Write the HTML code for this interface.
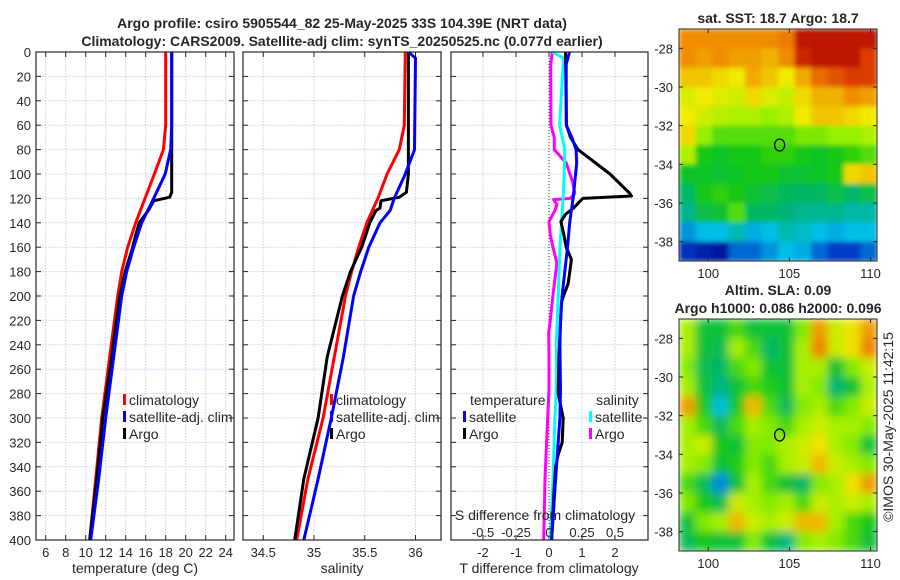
<!DOCTYPE html>
<html><head><meta charset="utf-8"><style>
body{margin:0;background:#fff;}
svg{display:block;font-family:"Liberation Sans","DejaVu Sans",sans-serif;}
text{fill:#262626;}
</style></head><body>
<svg id="chart" width="900" height="580" viewBox="0 0 900 580" xmlns="http://www.w3.org/2000/svg">
<defs>
<filter id="blurSST" x="0" y="0" width="1" height="1"><feGaussianBlur stdDeviation="2.5" edgeMode="duplicate"/></filter>
<filter id="blurSLA" x="0" y="0" width="1" height="1"><feGaussianBlur stdDeviation="4.5" edgeMode="duplicate"/></filter>
<clipPath id="clipSST"><rect x="679" y="29" width="198" height="232"/></clipPath>
<clipPath id="clipSLA"><rect x="679" y="319" width="198" height="232"/></clipPath>
</defs>
<rect width="900" height="580" fill="#fff"/>
<g id="root"></g>
</svg>
<script>
// ---------- data ----------
const depthTicks=[0,20,40,60,80,100,120,140,160,180,200,220,240,260,280,300,320,340,360,380,400];
const tempTicks=[6,8,10,12,14,16,18,20,22,24];
const salTicks=[34.5,35,35.5,36];
const salTickLabels=["34.5","35","35.5","36"];
const tdiffTicks=[-2,-1,0,1,2];
const sdiffTicks=[-0.5,-0.25,0,0.25,0.5];
const sdiffTickLabels=["-0.5","-0.25","0","0.25","0.5"];

const climDepth=[0,60,80,100,120,140,160,180,200,250,300,350,400];
const climTemp=[18.0,18.0,17.77,16.87,15.93,15.0,14.2,13.6,13.2,12.4,11.6,11.0,10.4];
const satTemp=[18.6,18.6,18.5,17.95,16.8,15.6,14.8,14.1,13.6,12.8,12.0,11.3,10.5];
const satDepthS=[0,5,80,100,120,130,140,160,180,200,250,300,350,400];
const climSalDepth=[0,60,80,100,120,140,160,180,200,250,300,350,400];
const climSal=[35.90,35.89,35.84,35.72,35.63,35.52,35.44,35.37,35.31,35.2,35.09,34.94,34.83];
const satSal=[35.93,36.0,35.99,35.9,35.79,35.75,35.65,35.54,35.46,35.39,35.29,35.17,35.04,34.9];

const argoDepth=[0,100,115,119,122,128,130,140,150,160,180,200,250,300,350,400];
const argoTemp=[18.6,18.6,18.6,18.4,16.8,16.4,16.25,15.35,15.0,14.7,13.95,13.4,12.6,11.7,11.1,10.4];
const argoSal=[35.93,35.93,35.91,35.84,35.66,35.65,35.61,35.55,35.51,35.47,35.36,35.28,35.13,35.04,34.9,34.81];

const tdiffSatDepth=[0,10,60,70,80,91,118,139,160,180,199,220,240,277,300,350,400];
const tdiffSat=[0.62,0.52,0.52,0.69,0.82,0.84,0.74,0.63,0.56,0.48,0.4,0.35,0.33,0.35,0.33,0.2,0.08];
const tdiffArgoDepth=[0,60,70,80,100,116,118,120,122,128,133,139,150,160,170,180,190,199,205,250,280,300,320,330,340,360,400];
const tdiffArgo=[0.5,0.53,0.65,0.88,1.85,2.45,2.5,1.03,0.95,0.74,0.5,0.36,0.45,0.52,0.68,0.63,0.58,0.45,0.38,0.3,0.28,0.43,0.4,0.28,0.2,0.15,0.08];
const sdiffSatDepth=[0,5,60,80,100,120,160,199,240,277,300,350,400];
const sdiffSat=[0.025,0.11,0.08,0.12,0.115,0.107,0.083,0.07,0.055,0.055,0.045,0.03,0.01];
const sdiffArgoDepth=[0,10,60,70,80,91,107,116,120,121,125,130,139,150,160,173,199,220,230,250,277,300,350,400];
const sdiffArgo=[0.025,0.013,0.015,0.04,0.04,0.13,0.18,0.195,0.16,0.035,0.06,0.045,0.0,0.01,0.03,0.06,0.03,0.01,-0.002,0.0,0.0,-0.01,-0.03,-0.04];

const lonTicks=[100,105,110];
const latTicks=[-28,-30,-32,-34,-36,-38];
const sstGrid=[
[0.78,0.78,0.78,0.78,0.78,0.78,0.8,0.95,0.96,0.96,0.95,0.95],
[0.78,0.76,0.78,0.76,0.76,0.74,0.78,0.92,0.95,0.95,0.95,0.88],
[0.72,0.72,0.7,0.68,0.75,0.72,0.68,0.75,0.82,0.85,0.88,0.88],
[0.66,0.68,0.66,0.65,0.7,0.66,0.64,0.7,0.74,0.74,0.78,0.76],
[0.68,0.65,0.63,0.62,0.62,0.6,0.62,0.68,0.72,0.72,0.7,0.68],
[0.7,0.6,0.55,0.55,0.55,0.55,0.55,0.58,0.58,0.6,0.6,0.62],
[0.62,0.5,0.48,0.5,0.5,0.52,0.52,0.5,0.48,0.5,0.52,0.55],
[0.48,0.48,0.47,0.48,0.5,0.5,0.47,0.47,0.48,0.5,0.7,0.72],
[0.42,0.5,0.52,0.5,0.47,0.45,0.43,0.42,0.42,0.45,0.42,0.45],
[0.38,0.45,0.47,0.55,0.42,0.42,0.4,0.38,0.38,0.38,0.36,0.36],
[0.25,0.3,0.3,0.35,0.28,0.3,0.35,0.33,0.3,0.28,0.3,0.3],
[0.12,0.08,0.05,0.2,0.2,0.25,0.3,0.28,0.2,0.15,0.15,0.2]];
const slaGrid=[
[0.6,0.5,0.5,0.55,0.5,0.5,0.5,0.58,0.7,0.62,0.65,0.7],
[0.6,0.5,0.48,0.6,0.55,0.47,0.5,0.6,0.72,0.62,0.65,0.72],
[0.58,0.48,0.47,0.55,0.58,0.5,0.5,0.6,0.6,0.5,0.58,0.62],
[0.6,0.5,0.45,0.5,0.55,0.53,0.5,0.6,0.58,0.46,0.5,0.6],
[0.7,0.52,0.4,0.52,0.68,0.55,0.48,0.58,0.6,0.55,0.58,0.62],
[0.6,0.55,0.48,0.55,0.6,0.58,0.55,0.6,0.62,0.6,0.6,0.58],
[0.6,0.62,0.52,0.5,0.58,0.58,0.6,0.62,0.65,0.6,0.58,0.5],
[0.6,0.58,0.5,0.53,0.58,0.55,0.6,0.62,0.68,0.62,0.6,0.58],
[0.55,0.48,0.35,0.5,0.6,0.55,0.5,0.47,0.58,0.6,0.65,0.7],
[0.58,0.52,0.48,0.62,0.6,0.58,0.6,0.55,0.62,0.6,0.62,0.6],
[0.5,0.58,0.6,0.68,0.62,0.6,0.62,0.68,0.68,0.6,0.55,0.52],
[0.48,0.52,0.5,0.5,0.58,0.5,0.45,0.58,0.6,0.58,0.55,0.5]];
const floatLon=[104.4];
const floatLat=[-33.0];

// ---------- helpers ----------
const NS="http://www.w3.org/2000/svg";
const root=document.getElementById('root');
function mk(tag,attrs,parent,txt){const e=document.createElementNS(NS,tag);for(const k in attrs)e.setAttribute(k,attrs[k]);if(txt!==undefined)e.textContent=txt;(parent||root).appendChild(e);return e;}
const Y0=52,Y1=540;
const yD=d=>Y0+(d/400)*(Y1-Y0);
function lin(d0,d1,r0,r1){return v=>r0+(v-d0)/(d1-d0)*(r1-r0);}
const cmapStops=[[0,[0,0,140]],[0.15,[0,60,200]],[0.3,[0,190,230]],[0.4,[0,180,120]],[0.5,[20,200,20]],[0.6,[150,240,0]],[0.68,[240,235,0]],[0.78,[240,140,0]],[0.88,[220,60,0]],[1,[170,0,0]]];
function cmap(v){v=Math.max(0,Math.min(1,v));
 for(let i=1;i<cmapStops.length;i++){const a=cmapStops[i-1],b=cmapStops[i];
  if(v<=b[0]){const f=(v-a[0])/(b[0]-a[0]);
   return 'rgb('+a[1].map((c,k)=>Math.round(c+(b[1][k]-c)*f)).join(',')+')';}}
 return 'rgb(170,0,0)';}

function panel(name,x0,x1,xs,xt,xl,showY){
 const g=mk('g',{});
 
 
 mk('rect',{x:x0,y:Y0,width:x1-x0,height:Y1-Y0,fill:'#fff'},g);
 xt.forEach((t,i)=>{const x=xs(t);
  const gl=mk('line',{x1:x,x2:x,y1:Y0,y2:Y1,stroke:'#c8cde8','stroke-width':1,'stroke-dasharray':'1.5,1.5'},g);
  
  
  mk('line',{x1:x,x2:x,y1:Y1,y2:Y1-5,stroke:'#262626'},g);
  mk('line',{x1:x,x2:x,y1:Y0,y2:Y0+5,stroke:'#262626'},g);
  if(xl){const tl=mk('text',{x:x,y:557,'font-size':13,'text-anchor':'middle'},g,xl[i]);
   
   }
 });
 depthTicks.forEach(d=>{const y=yD(d);
  if(d>0&&d<400)mk('line',{x1:x0,x2:x1,y1:y,y2:y,stroke:'#c8cde8','stroke-width':1,'stroke-dasharray':'1.5,1.5'},g);
  mk('line',{x1:x0,x2:x0+5,y1:y,y2:y,stroke:'#262626'},g);
  mk('line',{x1:x1,x2:x1-5,y1:y,y2:y,stroke:'#262626'},g);
  if(showY){const tl=mk('text',{x:x0-5,y:y+5,'font-size':13,'text-anchor':'end'},g,String(d));
   
   }
 });
 return g;
}
function frame(x0,x1){const f=mk('rect',{x:x0,y:Y0,width:x1-x0,height:Y1-Y0,fill:'none',stroke:'#262626','stroke-width':1.2});}
function line(name,xs,vals,depths,color,parent){
 const pts=vals.map((v,i)=>xs(v).toFixed(1)+','+yD(depths[i]).toFixed(1)).join(' ');
 const p=mk('polyline',{points:pts,fill:'none',stroke:color,'stroke-width':3,'stroke-linejoin':'round'},parent);
 
 
}
function legend(items,x,y,parent){items.forEach((it,i)=>{
 const yy=y+i*17;
 const m=mk('rect',{x:x,y:yy-11,width:3,height:11,fill:it[1]},parent);
 
 
 const t=mk('text',{x:x+6,y:yy,'font-size':14},parent,it[0]);
 
 
});}

// ---------- titles ----------
let t;
t=mk('text',{x:342,y:28,'font-size':14,'font-weight':'bold','text-anchor':'middle'},root,'Argo profile: csiro 5905544_82 25-May-2025 33S 104.39E (NRT data)');

t=mk('text',{x:342,y:46,'font-size':14,'font-weight':'bold','text-anchor':'middle'},root,'Climatology: CARS2009. Satellite-adj clim: synTS_20250525.nc (0.077d earlier)');


// ---------- panel 1 temperature ----------
const xT=lin(6,24,45.7,225.7);
const p1=panel('temperature-panel',36,234,xT,tempTicks,tempTicks.map(String),true);
line('climatology-temp-line',xT,climTemp,climDepth,'#ff0000',p1);
line('argo-temp-line',xT,argoTemp,argoDepth,'#000000',p1);
line('satellite-temp-line',xT,satTemp,climDepth,'#0000ff',p1);
legend([['climatology','#ff0000'],['satellite-adj. clim','#0000ff'],['Argo','#000000']],123,405,p1);
frame(36,234);
t=mk('text',{x:135,y:573,'font-size':14,'text-anchor':'middle'},root,'temperature (deg C)');


// ---------- panel 2 salinity ----------
const xS=lin(35,36,314,415.5);
const p2=panel('salinity-panel',243,441,xS,salTicks,salTickLabels,false);
line('climatology-sal-line',xS,climSal,climSalDepth,'#ff0000',p2);
line('argo-sal-line',xS,argoSal,argoDepth,'#000000',p2);
line('satellite-sal-line',xS,satSal,satDepthS,'#0000ff',p2);
legend([['climatology','#ff0000'],['satellite-adj. clim','#0000ff'],['Argo','#000000']],330,405,p2);
frame(243,441);
t=mk('text',{x:342,y:573,'font-size':14,'text-anchor':'middle'},root,'salinity');


// ---------- panel 3 differences ----------
const xTd=lin(0,1,549,582);
const xSd=v=>xTd(v*4);
const p3=panel('difference-panel',451,648,xTd,tdiffTicks,tdiffTicks.map(String),false);
t=mk('line',{x1:xTd(0),x2:xTd(0),y1:Y0,y2:Y1,stroke:'#333','stroke-width':1,'stroke-dasharray':'1,2'},p3);

line('argo-sdiff-line',xSd,sdiffArgo,sdiffArgoDepth,'#ff00ff',p3);
line('satellite-sdiff-line',xSd,sdiffSat,sdiffSatDepth,'#00ffff',p3);
line('argo-tdiff-line',xTd,tdiffArgo,tdiffArgoDepth,'#000000',p3);
line('satellite-tdiff-line',xTd,tdiffSat,tdiffSatDepth,'#0000ff',p3);
t=mk('text',{x:470,y:405,'font-size':14},p3,'temperature');

legend([['satellite','#0000ff'],['Argo','#000000']],463,422,p3);
t=mk('text',{x:596,y:405,'font-size':14},p3,'salinity');

legend([['satellite','#00ffff'],['Argo','#ff00ff']],589,422,p3);
t=mk('text',{x:545,y:520,'font-size':14,'text-anchor':'middle'},p3,'S difference from climatology');

sdiffTicks.forEach((v,i)=>{const tl=mk('text',{x:xSd(v),y:537,'font-size':13,'text-anchor':'middle'},p3,sdiffTickLabels[i]);
 
 });
frame(451,648);
t=mk('text',{x:549,y:573,'font-size':14,'text-anchor':'middle'},root,'T difference from climatology');


// ---------- maps ----------
function map(name,grid,top,bottom,title,filt,clip,contrast){
 const x0=679,x1=877,lon0=98.2,lon1=110.4,lat0=-27.0,lat1=-39.0;
 const xL=lin(lon0,lon1,x0,x1), yL=lin(lat0,lat1,top,bottom);
 const g=mk('g',{});
 
 
 const cg=mk('g',{'clip-path':'url(#'+clip+')'},g);
 const fg=mk('g',{filter:'url(#'+filt+')'},cg);
 const rows=grid.length, cols=grid[0].length;
 const cw=(x1-x0)/cols, ch=(bottom-top)/rows;
 grid.forEach((row,r)=>row.forEach((v,c)=>{
  const cv=0.57+(v-0.57)*contrast;
  const cell=mk('rect',{x:(x0+c*cw).toFixed(2),y:(top+r*ch).toFixed(2),width:(cw+0.6).toFixed(2),height:(ch+0.6).toFixed(2),fill:cmap(cv)},fg);
  
  
 }));
 mk('rect',{x:x0,y:top,width:x1-x0,height:bottom-top,fill:'none',stroke:'#262626','stroke-width':1},g);
 lonTicks.forEach(l=>{const x=xL(l);
  mk('line',{x1:x,x2:x,y1:bottom,y2:bottom-4,stroke:'#262626'},g);
  mk('line',{x1:x,x2:x,y1:top,y2:top+4,stroke:'#262626'},g);
  const tl=mk('text',{x:x,y:bottom+17,'font-size':13,'text-anchor':'middle'},g,String(l));
  });
 latTicks.forEach(l=>{const y=yL(l);
  mk('line',{x1:x0,x2:x0+4,y1:y,y2:y,stroke:'#262626'},g);
  mk('line',{x1:x1,x2:x1-4,y1:y,y2:y,stroke:'#262626'},g);
  const tl=mk('text',{x:x0-6,y:y+5,'font-size':13,'text-anchor':'end'},g,String(l));
  });
 const c=mk('ellipse',{cx:xL(floatLon[0]),cy:yL(floatLat[0]),rx:5,ry:6,fill:'none',stroke:'#000','stroke-width':1.3},g);
 
 
 title.forEach((tt,i)=>{const tl=mk('text',{x:778,y:tt[1],'font-size':14,'font-weight':'bold','text-anchor':'middle'},g,tt[0]);
  });
}
map('sst-map',sstGrid,29,261,[['sat. SST: 18.7 Argo: 18.7',23]],'blurSST','clipSST',1);
map('sla-map',slaGrid,319,551,[['Altim. SLA: 0.09',295],['Argo h1000: 0.086 h2000: 0.096',313]],'blurSLA','clipSLA',1.5);
t=mk('text',{x:893,y:427,'font-size':14,'text-anchor':'middle',transform:'rotate(-90 893 427)'},root,'©IMOS 30-May-2025 11:42:15');

</script>
</body></html>
